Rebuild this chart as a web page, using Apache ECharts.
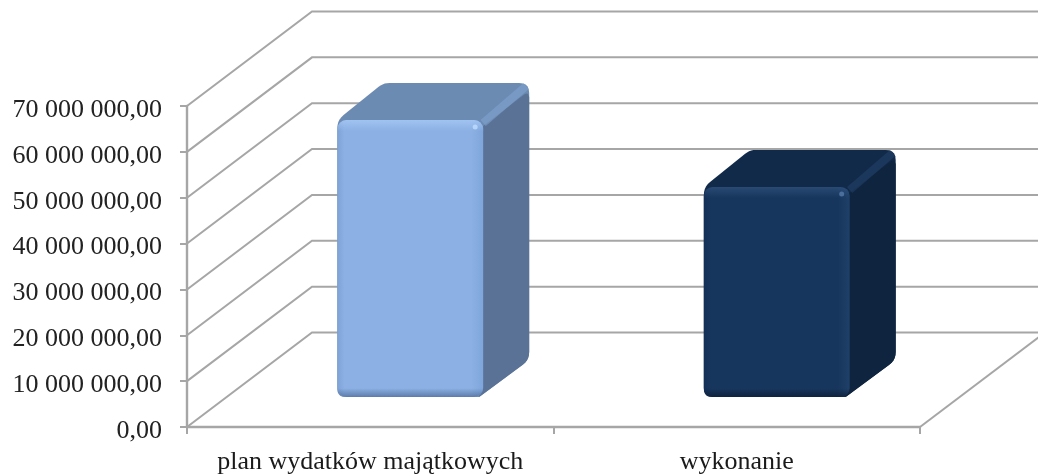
<!DOCTYPE html>
<html>
<head>
<meta charset="utf-8">
<style>
html,body{margin:0;padding:0;background:#fff}
#c{width:1038px;height:475px;filter:blur(0.7px)}
</style>
<script src="https://cdn.jsdelivr.net/npm/echarts@6/dist/echarts.min.js"></script>
</head>
<body>
<div id="c"></div>
<script>
var categories = ['plan wydatków majątkowych', 'wykonanie'];
var barValues = [60400000, 45800000];
var tickValues = [0, 10000000, 20000000, 30000000, 40000000, 50000000, 60000000, 70000000];

var wallDepth = [125, -94.5];
var barShift = [40, -30];
var barDepth = [46, -37];
var barPalette = [
  {front:'#8cb0e3', edgeL:'#7fa3d6', edgeR:'#7ea6dc', hi:'rgba(165,200,245,0.8)', lo:'rgba(60,90,135,0.6)', top:'#6b8bb3', side:'#5a7295', bevel:'rgba(130,165,210,0.55)', spot:'#c4e0ff'},
  {front:'#17365d', edgeL:'#14305a', edgeR:'#1f4069', hi:'rgba(55,90,135,0.55)', lo:'rgba(8,20,38,0.55)', top:'#122a4a', side:'#0f243e', bevel:'rgba(35,65,105,0.55)', spot:'#5a7fac'}
];
var gridColor = '#a6a6a6';

function formatValue(v){
  var s = String(Math.round(v)).replace(/\B(?=(\d{3})+(?!\d))/g,' ');
  return '{a|' + s + ',00}';
}
function roundedPoly(pts, radii){
  var out = [], n = pts.length;
  for (var i=0;i<n;i++){
    var p=pts[i], a=pts[(i+n-1)%n], b=pts[(i+1)%n], r=radii[i];
    if (!r){ out.push(p); continue; }
    var la=Math.hypot(a[0]-p[0],a[1]-p[1]), lb=Math.hypot(b[0]-p[0],b[1]-p[1]);
    var ra=Math.min(r,la/2)/la, rb=Math.min(r,lb/2)/lb;
    var s=[p[0]+(a[0]-p[0])*ra,p[1]+(a[1]-p[1])*ra], e=[p[0]+(b[0]-p[0])*rb,p[1]+(b[1]-p[1])*rb];
    for (var t=0;t<=1.001;t+=0.2){
      var u=1-t;
      out.push([u*u*s[0]+2*u*t*p[0]+t*t*e[0],u*u*s[1]+2*u*t*p[1]+t*t*e[1]]);
    }
  }
  return out;
}
function renderWall(params, api){
  var v = api.value(1), cs = params.coordSys;
  var y = api.coord([0,v])[1];
  var x0 = cs.x, x1 = cs.x+cs.width;
  var lineStyle = {stroke:gridColor, lineWidth:2, fill:null};
  var kids = [{type:'polyline', shape:{points:[[x0,y],[x0+wallDepth[0],y+wallDepth[1]],[x1+wallDepth[0],y+wallDepth[1]]]}, style:lineStyle}];
  if (v===0){
    kids.push({type:'line', shape:{x1:x1,y1:y,x2:x1+wallDepth[0],y2:y+wallDepth[1]}, style:{stroke:gridColor,lineWidth:2}});
  }
  return {type:'group', children:kids};
}
function renderBar(params, api){
  var i = api.value(0), v = api.value(1);
  var c = barPalette[i];
  var base = api.coord([i,0]), peak = api.coord([i,v]);
  var w = api.size([1,0])[0]*0.398;
  var cx = base[0]+barShift[0];
  var l = cx-w/2, r = cx+w/2, t = peak[1]+barShift[1], b = base[1]+barShift[1];
  var dx = barDepth[0], dy = barDepth[1], h = b-t;
  var grad = function(x2,y2,stops){return {type:'linear',x:0,y:0,x2:x2,y2:y2,colorStops:stops};};
  var outline = roundedPoly([[l,t],[l+dx,t+dy],[r+dx,t+dy],[r+dx,b+dy],[r-4,b],[l,b]],[8,6,10,8,0,8]);
  var sideFace = roundedPoly([[r,t+6],[r+dx-2,t+dy+9],[r+dx,t+dy+14],[r+dx,b+dy],[r-4,b]],[0,6,0,8,0]);
  var sw = 12/w, sh = 11/h;
  return {type:'group', children:[
    {type:'polygon', shape:{points:outline}, style:{fill:c.top}},
    {type:'polygon', shape:{points:sideFace}, style:{fill:c.side}},
    {type:'polyline', shape:{points:[[r,t+3],[r+dx-3,t+dy+3]]}, style:{stroke:c.bevel,lineWidth:8,fill:null}},
    {type:'rect', shape:{x:l,y:t,width:w,height:h,r:9}, style:{fill:grad(1,0,[
      {offset:0,color:c.edgeL},{offset:sw*0.6,color:c.front},{offset:1-sw,color:c.front},{offset:1,color:c.edgeR}])}},
    {type:'rect', shape:{x:l,y:t,width:w,height:h,r:9}, style:{fill:grad(0,1,[
      {offset:0,color:c.hi},{offset:sh,color:c.hi.replace(/[\d.]+\)$/,'0)')},
      {offset:1-sh*0.8,color:c.lo.replace(/[\d.]+\)$/,'0)')},{offset:1,color:c.lo}])}},
    {type:'circle', shape:{cx:r-8,cy:t+7,r:2.5}, style:{fill:c.spot,opacity:0.75}}
  ]};
}

var chart = echarts.init(document.getElementById('c'), null, {renderer:'canvas', width:1038, height:475});
chart.setOption({
  animation:false,
  backgroundColor:'#ffffff',
  grid:{left:187,right:118,top:106,bottom:48},
  xAxis:{
    type:'category', data:categories,
    axisLine:{show:true,lineStyle:{color:gridColor,width:2.4}},
    axisTick:{show:true,length:7,alignWithLabel:false,lineStyle:{color:gridColor,width:2}},
    axisLabel:{color:'#1a1a1a',fontFamily:'"Liberation Serif"',fontSize:26,margin:22,interval:0},
    splitLine:{show:false}
  },
  yAxis:{
    type:'value', min:0, max:70000000, interval:10000000,
    axisLine:{show:true,lineStyle:{color:gridColor,width:2.4}},
    axisTick:{show:true,length:7,lineStyle:{color:gridColor,width:2}},
    axisLabel:{margin:25,formatter:formatValue,
      rich:{a:{color:'#222222',fontFamily:'"Liberation Serif"',fontSize:26,padding:[8,0,0,0]}}},
    splitLine:{show:false}
  },
  series:[
    {type:'custom', renderItem:renderWall, clip:false, silent:true, z:1,
     encode:{x:0,y:1}, data:tickValues.map(function(v){return [0,v];})},
    {type:'custom', renderItem:renderBar, clip:false, silent:true, z:3,
     encode:{x:0,y:1}, data:barValues.map(function(v,i){return [i,v];})}
  ]
});
</script>
</body>
</html>
